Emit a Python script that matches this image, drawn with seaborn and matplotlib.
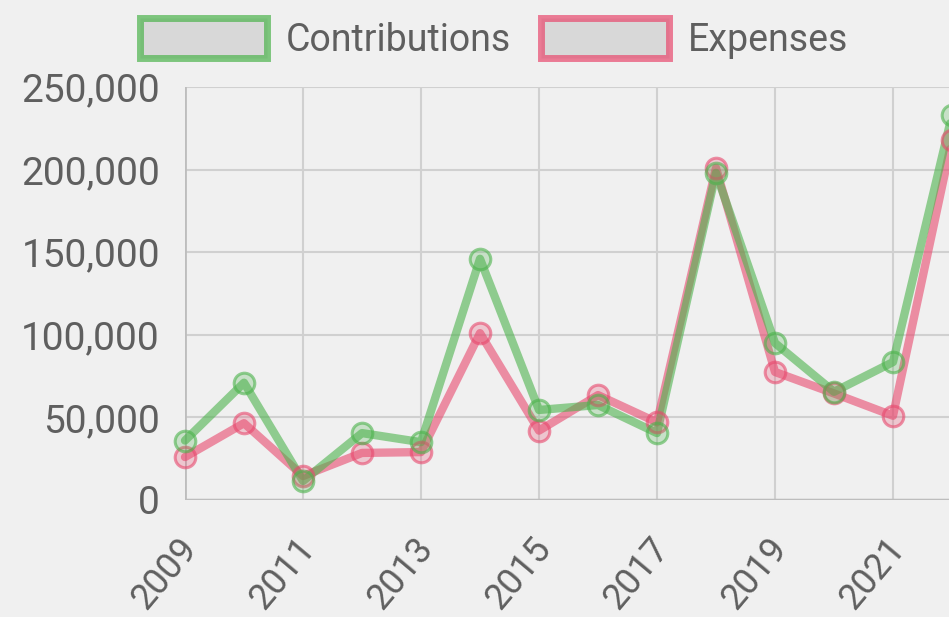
import matplotlib
matplotlib.use('Agg')
import matplotlib.pyplot as plt
import matplotlib.transforms as mtransforms
from matplotlib.patches import Patch
from matplotlib.ticker import FuncFormatter
from matplotlib.colors import to_rgba
import seaborn as sns
import pandas as pd

years = list(range(2009, 2023))
contributions = [36000, 71000, 11500, 40500, 35000, 146000, 54500, 57500, 40500,
                 198000, 95000, 65500, 83500, 233000]
expenses = [26000, 46500, 14500, 28500, 29000, 101000, 42000, 63500, 47000,
            201000, 77500, 64500, 51000, 218000]
series_names = ['Contributions', 'Expenses']
x_ticks = list(range(2009, 2022, 2))
y_ticks = [0, 50000, 100000, 150000, 200000, 250000]

green = '#4db34d'
red = '#e8496e'
bg = '#f0f0f0'
grid_c = '#d0d0d0'
text_c = '#5f5f5f'

df = pd.DataFrame({
    'year': years * 2,
    'value': contributions + expenses,
    'series': [series_names[0]] * len(years) + [series_names[1]] * len(years),
})

sns.set_theme(style='whitegrid')
plt.rcParams['font.family'] = ['Roboto', 'DejaVu Sans']

W, H = 949, 617
fig = plt.figure(figsize=(W / 100, H / 100), dpi=100, facecolor=bg)
ax = fig.add_axes([185 / W, (H - 500) / H, (952 - 185) / W, (500 - 87) / H])
ax.set_facecolor(bg)

sns.lineplot(data=df, x='year', y='value', hue='series',
             palette={series_names[0]: green, series_names[1]: red},
             hue_order=series_names[::-1], linewidth=6, alpha=0.6,
             legend=False, ax=ax, clip_on=False)
# hollow-ish point markers drawn on top of each line
for name, col in zip(series_names[::-1], [red, green]):
    sub = df[df['series'] == name]
    sns.scatterplot(data=sub, x='year', y='value', ax=ax, s=220,
                    facecolor=to_rgba(col, 0.25), edgecolor=to_rgba(col, 0.6),
                    linewidth=2.2, legend=False, clip_on=False, zorder=3)

ax.set_xlim(2009, 2022)
ax.set_ylim(0, 250000)
ax.set_xticks(x_ticks)
ax.set_yticks(y_ticks)
ax.yaxis.set_major_formatter(FuncFormatter(lambda v, p: f'{int(v):,}'))
ax.set_xlabel('')
ax.set_ylabel('')
ax.grid(True, color=grid_c, linewidth=1.5)
for s in ax.spines.values():
    s.set_visible(False)
ax.axhline(0, color='#bdbdbd', linewidth=2.5, zorder=1)
ax.axvline(2009, color='#bdbdbd', linewidth=2, zorder=1)

ax.tick_params(axis='both', length=10, width=1.5, color=grid_c, labelcolor=text_c,
               labelsize=28)
ax.tick_params(axis='x', pad=12, labelsize=26)
ax.tick_params(axis='y', pad=8)
shift = mtransforms.ScaledTranslation(-8 / 100, 0, fig.dpi_scale_trans)
for lab in ax.get_xticklabels():
    lab.set_rotation(50)
    lab.set_ha('right')
    lab.set_rotation_mode('anchor')
    lab.set_transform(lab.get_transform() + shift)

handles = [Patch(facecolor='#d8d8d8', edgecolor=to_rgba(green, 0.7), linewidth=5),
           Patch(facecolor='#d8d8d8', edgecolor=to_rgba(red, 0.7), linewidth=5)]
fig.legend(handles, series_names, loc='upper center', bbox_to_anchor=(494 / W, 1.025),
           ncol=2, frameon=False, fontsize=27, labelcolor=text_c,
           handlelength=3.4, handleheight=1.25, columnspacing=0.8, handletextpad=0.5)

fig.savefig('out.png', dpi=100, facecolor=bg)
